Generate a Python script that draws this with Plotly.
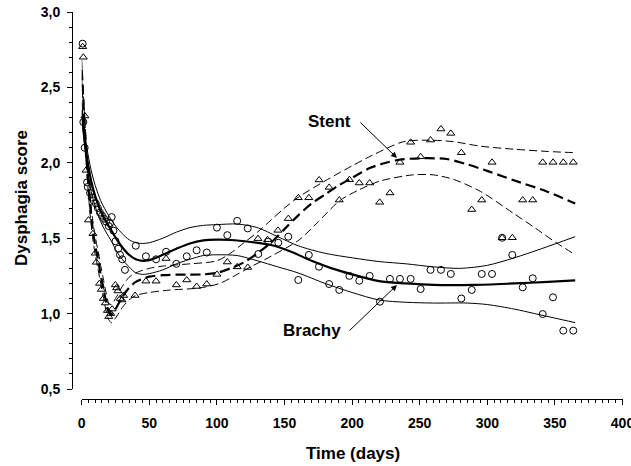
import plotly.graph_objects as go

# ---------------- data ----------------
brachy_x = [0.7, 1.2, 2.2, 4.0, 4.5, 6.2, 7.5, 8.8, 10.5, 12, 13.5, 15, 16.5, 18, 20, 21, 22.2, 23.5, 25, 27,
            28.3, 30, 32, 40, 47.5, 55, 62.4, 70, 77.7, 85, 92.5, 100, 107.7, 115, 122.8, 130.6, 138, 145.4,
            152.8, 160.2, 168, 175.5, 183, 190.5, 198, 205.3, 213, 220.6, 228, 235.4, 243.3, 250.7, 258,
            265.7, 273, 280.8, 288.5, 295.9, 303.5, 311, 318.5, 326.2, 333.6, 341, 348.6, 356.2, 363.6]
brachy_y = [2.79, 2.27, 2.10, 1.87, 1.84, 1.80, 1.77, 1.75, 1.73, 1.70, 1.67, 1.65, 1.63, 1.61, 1.58, 1.60,
            1.64, 1.55, 1.48, 1.43, 1.39, 1.36, 1.29, 1.45, 1.38, 1.36, 1.41, 1.33, 1.38, 1.42, 1.405, 1.57,
            1.52, 1.615, 1.565, 1.395, 1.477, 1.47, 1.51, 1.223, 1.389, 1.311, 1.196, 1.157, 1.25, 1.218,
            1.25, 1.079, 1.23, 1.23, 1.23, 1.163, 1.29, 1.29, 1.263, 1.10, 1.157, 1.263, 1.263, 1.503,
            1.389, 1.174, 1.234, 0.997, 1.108, 0.887, 0.887]

stent_x = [0.7, 1.2, 2.4, 3.2, 5.0, 8.3, 10, 10.8, 13.2, 14.5, 16, 17.5, 19, 20, 21.5, 22.5, 24.9, 25.8, 26.8,
           28.5, 29.8, 31, 39.5, 47.5, 55, 62.4, 70, 77.7, 85, 92.5, 100, 107.7, 115, 122.8, 130.4, 137.5,
           145.1, 152.8, 160.2, 168, 175.6, 183, 190.5, 198, 205.3, 213, 220.4, 228, 235.4, 243.3, 250.7,
           258, 265.7, 273, 280.8, 288.5, 295.9, 303.5, 311, 318.5, 326.2, 333.6, 341, 348.6, 356.2, 363.6]
stent_y = [2.77, 2.70, 2.31, 1.95, 1.62, 1.53, 1.40, 1.34, 1.20, 1.16, 1.10, 1.07, 1.02, 0.98, 1.00, 1.03,
           1.19, 1.17, 1.15, 1.10, 1.09, 1.12, 1.12, 1.215, 1.215, 1.365, 1.19, 1.223, 1.18, 1.196, 1.26,
           1.342, 1.31, 1.306, 1.497, 1.49, 1.552, 1.63, 1.768, 1.768, 1.886, 1.837, 1.753, 1.888, 1.866,
           1.866, 1.738, 1.80, 2.003, 2.136, 2.04, 2.151, 2.224, 2.195, 2.067, 1.69, 1.753, 2.003, 1.503,
           1.503, 1.753, 1.753, 2.003, 2.003, 2.003, 2.003]

# fitted curves and confidence bands
bfit_x = [0, 2, 4, 7, 10, 14, 18, 22, 26, 30, 35, 40, 45, 50, 60, 70, 80, 90, 100, 110, 125, 140, 155, 170,
          185, 200, 220, 240, 260, 290, 320, 345, 365]
bfit_y = [2.35, 2.17, 2.03, 1.88, 1.78, 1.68, 1.61, 1.55, 1.49, 1.44, 1.39, 1.36, 1.35, 1.355, 1.39, 1.43,
          1.465, 1.485, 1.49, 1.488, 1.475, 1.455, 1.41, 1.35, 1.30, 1.26, 1.215, 1.20, 1.19, 1.19, 1.20,
          1.21, 1.22]
bup_x = [0, 2, 4, 7, 10, 14, 18, 22, 26, 30, 35, 40, 45, 50, 60, 70, 80, 90, 100, 115, 130, 145, 160, 180,
         200, 220, 240, 260, 280, 300, 320, 340, 365]
bup_y = [2.40, 2.22, 2.09, 1.95, 1.85, 1.75, 1.68, 1.62, 1.57, 1.53, 1.49, 1.47, 1.465, 1.47, 1.50, 1.54,
         1.57, 1.585, 1.59, 1.594, 1.57, 1.51, 1.45, 1.40, 1.37, 1.345, 1.33, 1.31, 1.30, 1.32, 1.37, 1.43,
         1.51]
blo_x = [0, 2, 4, 7, 10, 14, 18, 22, 26, 30, 35, 40, 45, 50, 60, 70, 80, 90, 100, 115, 130, 145, 160, 180,
         200, 220, 240, 260, 285, 300, 320, 335, 350, 365]
blo_y = [2.30, 2.12, 1.97, 1.81, 1.71, 1.61, 1.54, 1.48, 1.41, 1.36, 1.31, 1.27, 1.26, 1.265, 1.29, 1.33,
         1.36, 1.385, 1.39, 1.385, 1.35, 1.31, 1.27, 1.20, 1.14, 1.09, 1.075, 1.07, 1.07, 1.06, 1.03, 1.0,
         0.97, 0.94]

sfit_x = [0, 2, 4, 6, 8, 10, 12, 14, 16, 18, 20, 22, 25, 30, 35, 40, 50, 60, 70, 80, 90, 100, 110, 120, 130,
          140, 150, 160, 170, 180, 190, 200, 213, 225, 235, 250, 270, 285, 302, 319, 344, 365]
sfit_y = [2.62, 2.28, 1.97, 1.74, 1.57, 1.45, 1.36, 1.26, 1.17, 1.08, 1.01, 0.995, 1.03, 1.11, 1.17, 1.21,
          1.245, 1.255, 1.258, 1.258, 1.26, 1.27, 1.30, 1.34, 1.40, 1.47, 1.56, 1.65, 1.73, 1.79, 1.85,
          1.90, 1.965, 2.0, 2.02, 2.03, 2.025, 1.99, 1.94, 1.886, 1.81, 1.73]
sup_x = [0, 2, 4, 6, 8, 10, 12, 14, 16, 18, 20, 22, 25, 30, 35, 40, 50, 60, 80, 100, 110, 120, 130, 140, 150,
         160, 180, 200, 215, 238, 258, 275, 295, 320, 345, 365]
sup_y = [2.68, 2.34, 2.03, 1.80, 1.63, 1.51, 1.42, 1.32, 1.23, 1.14, 1.07, 1.06, 1.10, 1.18, 1.24, 1.27,
         1.30, 1.315, 1.33, 1.35, 1.40, 1.47, 1.54, 1.62, 1.70, 1.77, 1.88, 1.98, 2.05, 2.14, 2.15, 2.14,
         2.11, 2.09, 2.075, 2.067]
slo_x = [0, 2, 4, 6, 8, 10, 12, 14, 16, 18, 20, 22, 25, 30, 35, 40, 50, 65, 87, 102, 115, 125, 140, 161, 175,
         191, 205, 221, 245, 260, 275, 295, 319, 335, 351, 365]
slo_y = [2.56, 2.22, 1.91, 1.68, 1.51, 1.39, 1.30, 1.20, 1.11, 1.02, 0.96, 0.94, 0.97, 1.04, 1.09, 1.12,
         1.14, 1.156, 1.17, 1.20, 1.26, 1.31, 1.38, 1.49, 1.61, 1.75, 1.82, 1.88, 1.92, 1.92, 1.89, 1.81,
         1.667, 1.57, 1.47, 1.39]

x_ticks = [0, 50, 100, 150, 200, 250, 300, 350, 400]
y_ticks = [0.5, 1.0, 1.5, 2.0, 2.5, 3.0]

# ---------------- figure ----------------
W, H = 631, 466
OFF = 0  # page body margin removed below
FONT = "Liberation Sans, Arial, Helvetica, sans-serif"

def px_x(p):
    return (p - OFF) / W

def px_y(p):
    return 1 - (p - OFF) / H

fig = go.Figure()

def line(xs, ys, width, dash):
    fig.add_trace(go.Scatter(x=xs, y=ys, mode="lines",
                             line=dict(color="black", width=width, dash=dash, shape="spline", smoothing=0.8),
                             hoverinfo="skip", showlegend=False))

line(bup_x, bup_y, 1, "solid")
line(blo_x, blo_y, 1, "solid")
line(bfit_x, bfit_y, 2.2, "solid")
line(sup_x, sup_y, 1, "8px,4px")
line(slo_x, slo_y, 1, "8px,4px")
line(sfit_x, sfit_y, 2.2, "10px,5px")

fig.add_trace(go.Scatter(x=brachy_x, y=brachy_y, mode="markers", name="Brachy", cliponaxis=False,
                         marker=dict(symbol="circle-open", size=7, color="black", line=dict(width=1, color="black")),
                         showlegend=False))
fig.add_trace(go.Scatter(x=stent_x, y=stent_y, mode="markers", name="Stent", cliponaxis=False,
                         marker=dict(symbol="triangle-up-open", size=7, color="black", line=dict(width=1, color="black")),
                         showlegend=False))

tickfont = dict(family=FONT, size=14, color="black", weight="bold")

fig.update_layout(
    width=W, height=H,
    margin=dict(l=0, r=0, t=0, b=0, pad=0, autoexpand=False),
    paper_bgcolor="white", plot_bgcolor="white",
    separators=",.",
    xaxis=dict(
        domain=[px_x(81.7), px_x(622.5)], range=[0, 400], anchor="free", position=px_y(399),
        automargin=False, ticklabeloverflow="allow",
        showgrid=False, zeroline=False, showline=True, linecolor="black", linewidth=1,
        tickmode="array", tickvals=x_ticks, ticks="outside", ticklen=5, tickwidth=1, tickcolor="black",
        tickfont=tickfont, ticklabelstandoff=6,
        minor=dict(dtick=5, tick0=0, ticks="outside", ticklen=3, tickwidth=1, tickcolor="black", showgrid=False),
    ),
    yaxis=dict(
        domain=[px_y(389), px_y(12)], range=[0.5, 3.0], anchor="free", position=px_x(72),
        automargin=False, ticklabeloverflow="allow",
        showgrid=False, zeroline=False, showline=True, linecolor="black", linewidth=1,
        tickmode="array", tickvals=y_ticks, tickformat=".1f", ticks="outside", ticklen=5, tickwidth=1,
        tickcolor="black", tickfont=tickfont, ticklabelstandoff=4,
        minor=dict(dtick=0.1, tick0=0.5, ticks="outside", ticklen=3, tickwidth=1, tickcolor="black", showgrid=False),
    ),
)

title_font = dict(family=FONT, size=17, color="black", weight="bold")
fig.add_annotation(text="Time (days)", xref="paper", yref="paper", x=px_x(353), y=px_y(453),
                   showarrow=False, font=title_font, xanchor="center", yanchor="middle")
fig.add_annotation(text="Dysphagia score", xref="paper", yref="paper", x=px_x(22), y=px_y(198),
                   showarrow=False, font=title_font, textangle=-90, xanchor="center", yanchor="middle")

# labels with arrows
fig.add_annotation(text="Stent", x=183.6, y=2.277, xref="x", yref="y", showarrow=False, font=title_font)
fig.add_annotation(text="", x=233.2, y=2.032, ax=205.0, ay=2.277, xref="x", yref="y", axref="x", ayref="y",
                   showarrow=True, arrowhead=2, arrowsize=1.2, arrowwidth=1, arrowcolor="black")
fig.add_annotation(text="Brachy", x=170.4, y=0.891, xref="x", yref="y", showarrow=False, font=title_font)
fig.add_annotation(text="", x=233.2, y=1.19, ax=197.0, ay=0.878, xref="x", yref="y", axref="x", ayref="y",
                   showarrow=True, arrowhead=2, arrowsize=1.2, arrowwidth=1, arrowcolor="black")

fig.write_html("out.html", config={"displayModeBar": False},
               post_script="document.body.style.margin='0';document.body.style.overflow='hidden';")
